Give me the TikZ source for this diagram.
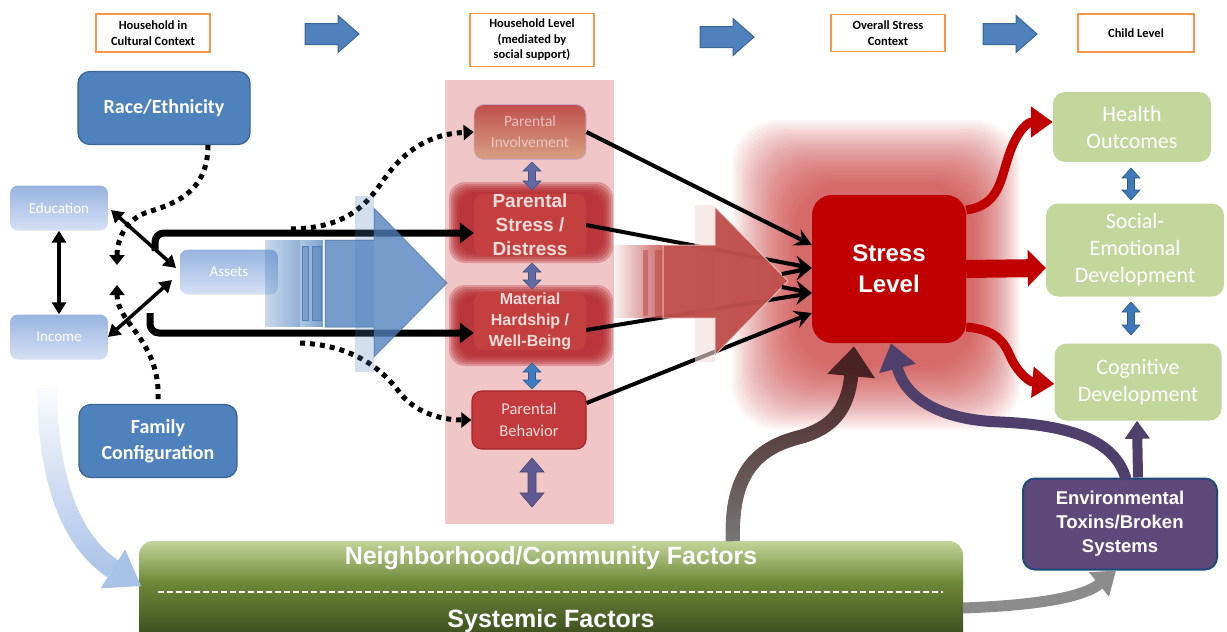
\documentclass[tikz,border=0pt]{standalone}
\usepackage{fontspec}
\setmainfont{Carlito}
\newfontfamily\arialb{Liberation Sans}
\usetikzlibrary{arrows.meta,fadings}
\definecolor{hblue}{HTML}{4F81BD}
\definecolor{hblueD}{HTML}{3A6597}
\definecolor{orangeB}{HTML}{F79646}
\definecolor{pinkcol}{HTML}{F0C6C7}
\definecolor{redbox}{HTML}{C00000}
\definecolor{greenbox}{HTML}{C3D69B}
\definecolor{purplebox}{HTML}{5F497A}
\definecolor{envborder}{HTML}{1F497D}
\definecolor{arrpurple}{HTML}{4F3F6B}
\definecolor{arrgray}{HTML}{7A7A7A}
\definecolor{arrgrayL}{RGB}{140,140,140}
\definecolor{arrdark}{HTML}{4A2222}
\definecolor{lightblue}{HTML}{A9C2E8}
\definecolor{pstressO}{HTML}{B3252B}
\definecolor{pinner}{HTML}{C4403F}
\definecolor{pbeh}{HTML}{C23A3C}
\definecolor{pbehD}{RGB}{165,35,38}
\definecolor{ptext}{HTML}{F2DCDB}
\definecolor{fbtop}{HTML}{98B4E0}
\definecolor{fbbot}{HTML}{D5E1F4}
\definecolor{bigred}{HTML}{C0504D}
\definecolor{tanbot}{RGB}{215,160,130}
\definecolor{invborder}{RGB}{200,170,200}
\definecolor{nglight}{HTML}{C4D79D}
\definecolor{ngmid}{HTML}{6F8A38}
\definecolor{ngdark}{HTML}{3E5120}
\definecolor{glowred}{HTML}{CC2A2A}
\definecolor{dblpurple}{RGB}{95,106,165}
\definecolor{dblblue}{RGB}{63,123,191}
\definecolor{dblviolet}{RGB}{95,90,147}
\definecolor{dblgreen}{RGB}{63,120,184}
\newcommand\myfs[2]{\fontsize{#1}{#2}\selectfont}
\tikzfading[name=fadeinright, left color=transparent!100, right color=transparent!0]
\tikzfading[name=fadedownop, top color=transparent!100, bottom color=transparent!0]
\newcommand\vdbl[7]{\fill[fill=#4, draw=#4!75!black, line width=0.6pt]
  (#1,#2) -- (#1+#5,#2+#7) -- (#1+#6,#2+#7) -- (#1+#6,#3-#7) -- (#1+#5,#3-#7) -- (#1,#3)
  -- (#1-#5,#3-#7) -- (#1-#6,#3-#7) -- (#1-#6,#2+#7) -- (#1-#5,#2+#7) -- cycle;}
\newcommand\blockarrow[2]{\draw[blockarr] (#1,#2) ++(0,-10.5) -- ++(33,0) -- ++(0,-8) -- ++(21,18.5) -- ++(-21,18.5) -- ++(0,-8) -- ++(-33,0) -- cycle;}
\begin{document}
\begin{tikzpicture}[x=1pt,y=-1pt,
  hdr/.style={draw=orangeB, line width=1.8pt, fill=white, align=center, inner sep=0pt, font=\bfseries\myfs{12.5}{15.5}},
  bluebox/.style={draw=hblueD, line width=1.3pt, fill=hblue, rounded corners=12pt, text=white, align=center, inner sep=0pt, font=\bfseries\myfs{20}{26}},
  fadebox/.style={top color=fbtop, bottom color=fbbot, rounded corners=8pt, text=white, inner sep=0pt, font=\myfs{15}{18}},
  greenbox/.style={fill=greenbox, rounded corners=12pt, text=white, align=center, inner sep=0pt, font=\myfs{22}{27}},
  blockarr/.style={fill=hblue, draw=hblueD, line width=1pt},
  thickblk/.style={line width=7pt, rounded corners=9pt, -{Triangle[length=14pt,width=20pt]}},
  thinblk/.style={line width=3.5pt, {Triangle[length=12pt,width=14pt]}-{Triangle[length=12pt,width=14pt]}},
  dotblk/.style={line width=5pt, dash pattern=on 5pt off 5pt, -{Triangle[length=10pt,width=15pt]}},
  tostress/.style={line width=4pt, -{Stealth[length=17pt,width=18pt,inset=6pt]}},
  redarr/.style={draw=redbox, line width=9pt, -{Triangle[length=22pt,width=30pt]}},
  pnode/.style={align=center, inner sep=0pt, text=ptext}
]
\useasboundingbox (0,0) rectangle (1227,632);
\fill[white] (0,0) rectangle (1227,632);

% pink column
\fill[pinkcol] (445,80) rectangle (614,524);

% stress glow (soft, many faint layers)
\foreach \k in {0,...,29}{
  \fill[glowred, opacity=0.036, rounded corners=45pt] (732+2.2*\k,120+2.2*\k) rectangle (1020-1.6*\k,430-2.2*\k);
}

% neighborhood / systemic box
\begin{scope}
  \clip[rounded corners=14pt] (139,541) rectangle (963,660);
  \shade[top color=nglight, bottom color=ngmid] (139,540) rectangle (963,582);
  \shade[top color=ngmid, bottom color=ngdark] (139,581) rectangle (963,633);
\end{scope}
\node[text=white, font=\arialb\bfseries\myfs{25}{28}] (nbh) at (551,558) {Neighborhood/Community Factors};
\node[text=white, font=\arialb\bfseries\myfs{25}{28}] (sys) at (551,621) {Systemic Factors};
\coordinate (dl) at (158,592);
\coordinate (dr) at (943,592);
\draw[white, line width=2.5pt, dash pattern=on 6pt off 3pt] (dl) -- (dr);

% header boxes
\node[hdr, minimum width=114, minimum height=38] (h1) at (153,33) {Household in\\Cultural Context};
\node[hdr, minimum width=124, minimum height=53] (h2) at (532,40) {Household Level\\(mediated by\\social support)};
\node[hdr, minimum width=114, minimum height=37] (h3) at (888,33) {Overall Stress\\Context};
\node[hdr, minimum width=116, minimum height=38] (h4) at (1136,33) {Child Level};
\blockarrow{305}{34}
\blockarrow{700}{37}
\blockarrow{983}{34}

% left boxes
\node[bluebox, minimum width=172, minimum height=73] (race) at (164,108) {Race/Ethnicity};
\node[bluebox, minimum width=158, minimum height=73] (fam) at (158,441) {Family\\Configuration};
\node[fadebox, minimum width=98, minimum height=45] (edu) at (59,208) {Education};
\node[fadebox, minimum width=98, minimum height=45] (inc) at (59,337) {Income};
\node[fadebox, minimum width=98, minimum height=45] (ast) at (229,272) {Assets};

% light blue arrow from income to neighborhood
\coordinate (lbs) at (47,388);
\coordinate (lbb) at (113,569);
\coordinate (lbe) at (141,586);
\draw[lightblue, line width=20pt, path fading=fadedownop]
  (lbs) .. controls (48,480) and (70,540) .. (lbb);
\fill[lightblue] (lbe) -- (100.6,588.4) -- (125.2,549.4) -- cycle;

% parental boxes
\node[top color=bigred, bottom color=tanbot, draw=invborder, line width=0.8pt, rounded corners=10pt, minimum width=112, minimum height=55, pnode, text opacity=0.75, font=\myfs{15.5}{21}] (pinv) at (530,132) {Parental\\Involvement};
\foreach \k in {0,...,5}{
  \fill[pstressO, opacity=0.3, rounded corners=16pt] (449+2*\k,182+2*\k) rectangle (613-2*\k,263-2*\k);
  \fill[pstressO, opacity=0.3, rounded corners=16pt] (449+2*\k,285+2*\k) rectangle (613-2*\k,366-2*\k);
}
\node[fill=pinner, rounded corners=10pt, minimum width=112, minimum height=58, pnode, font=\arialb\bfseries\myfs{19}{24}] (pstress) at (530,225) {Parental\\Stress /\\Distress};
\node[fill=pinner, rounded corners=10pt, minimum width=112, minimum height=58, pnode, font=\arialb\bfseries\myfs{16}{21}] (phard) at (530,321) {Material\\Hardship /\\Well-Being};
\node[fill=pbeh, draw=pbehD, line width=1.2pt, rounded corners=10pt, minimum width=114, minimum height=58, pnode, font=\myfs{16.5}{22}] (pbeh) at (529,420) {Parental\\Behavior};
\vdbl{532}{162}{190}{dblpurple}{9}{3.5}{9}
\vdbl{532}{263}{289}{dblpurple}{9}{3.5}{9}
\vdbl{532}{363}{389}{dblblue}{9}{3.5}{9}
\vdbl{532}{458}{507}{dblviolet}{12}{4}{14}

% black connectors on the left
\draw[thinblk] (edu.south) -- (inc.north);
\coordinate (ea) at (111,210);
\coordinate (ae) at (176,268);
\draw[thinblk] (ea) -- (ae);
\coordinate (ia) at (108,337);
\coordinate (ai) at (172,280);
\draw[thinblk] (ia) -- (ai);
\draw[thickblk] (155,251) -- (155,233) -- (pstress.west |- 0,233);
\draw[thickblk] (150,313) -- (150,333) -- (phard.west |- 0,333);

% dotted connectors
\coordinate (rd) at (117,265);
\draw[dotblk] ([xshift=44pt]race.south) .. controls (208,195) and (170,205) .. (145,213) .. controls (125,221) and (117,240) .. (rd);
\coordinate (fd) at (117,285);
\draw[dotblk, {Triangle[length=10pt,width=15pt]}-] (fd) .. controls (117,325) and (162,340) .. (fam.north);
\coordinate (ds1) at (291,229);
\draw[dotblk] (ds1) .. controls (350,228) and (368,202) .. (385,178) .. controls (405,150) and (430,134) .. (pinv.west);
\coordinate (ds2) at (300,343);
\draw[dotblk] (ds2) .. controls (350,345) and (380,366) .. (400,393) .. controls (415,412) and (440,420) .. (pbeh.west);

% big blue arrow
\fill[hblue, opacity=0.25] (355,196) rectangle (374,372);
\fill[hblue, opacity=0.75, path fading=fadeinright] (265,240) rectangle (323,327);
\fill[hblue, opacity=0.3] (265,240) rectangle (300,327);
\draw[hblue, fill=hblue, fill opacity=0.5, line width=1pt] (302,246) rectangle (308,320) (312,246) rectangle (321,320);
\draw[fill=hblue, fill opacity=0.78, draw=hblueD, draw opacity=0.5, line width=1pt] (325,240) -- (374,240) -- (374,208) -- (447,283) -- (374,357) -- (374,327) -- (325,327) -- cycle;

% stress level box and arrows into it
\node[fill=redbox, rounded corners=20pt, minimum width=154, minimum height=148, text=white, align=center, inner sep=0pt, font=\arialb\bfseries\myfs{24}{31}] (stress) at (889,269) {Stress\\Level};
\draw[tostress] (pinv.east) -- ([yshift=24pt]stress.west);
\draw[tostress] (pstress.east) -- ([yshift=1pt]stress.west);
\draw[tostress] ([yshift=-9pt]phard.east) -- ([yshift=-24pt]stress.west);
\draw[tostress] ([yshift=17pt]pbeh.east) -- ([yshift=-44pt]stress.west);

% big red arrow (over the black lines)
\fill[ptext, opacity=0.6] (695,205) rectangle (715,362);
\fill[bigred, opacity=0.85, path fading=fadeinright] (610,245) rectangle (663,318);
\fill[bigred, fill opacity=0.6] (643,250) rectangle (648,316) (655,250) rectangle (662,316);
\draw[fill=bigred, fill opacity=0.97, draw=ptext, draw opacity=0.7, line width=1pt] (663,245) -- (715,245) -- (715,207) -- (788,281) -- (715,355) -- (715,318) -- (663,318) -- cycle;
\draw[tostress] ([xshift=-30pt,yshift=-5pt]stress.west) -- ([yshift=1pt]stress.west);
\draw[tostress] ([xshift=-30pt,yshift=-18pt]stress.west) -- ([yshift=-24pt]stress.west);

% child level boxes
\node[greenbox, minimum width=158, minimum height=70] (health) at (1132,127) {Health\\Outcomes};
\node[greenbox, minimum width=178, minimum height=93] (social) at (1135,250) {Social-\\Emotional\\Development};
\node[greenbox, minimum width=167, minimum height=77] (cog) at (1138,382) {Cognitive\\Development};
\vdbl{1131}{168}{200}{dblgreen}{9}{3.5}{10}
\vdbl{1131}{302}{335}{dblgreen}{9}{3.5}{10}

% red arrows from stress
\draw[redarr] ([yshift=59pt]stress.east) .. controls (1000,205) and (1000,180) .. (1010,152) .. controls (1018,130) and (1028,122) .. ([yshift=5pt]health.west);
\draw[redbox, line width=18pt, -{Triangle[length=18pt,width=36pt]}] (stress.east) -- ([yshift=-18pt]social.west);
\draw[redarr] ([yshift=-58pt]stress.east) .. controls (1000,330) and (1005,345) .. (1012,360) .. controls (1020,375) and (1030,382) .. ([yshift=-2pt]cog.west);

% environmental toxins
\node[fill=purplebox, draw=envborder, line width=2pt, rounded corners=12pt, minimum width=194, minimum height=91, text=white, align=center, inner sep=0pt, font=\arialb\bfseries\myfs{18.5}{24}] (env) at (1120,524) {Environmental\\Toxins/Broken\\Systems};

% purple arrows
\coordinate (pa) at (1126,479);
\draw[arrpurple, line width=11pt, -{Triangle[length=26pt,width=36pt]}] (pa) .. controls (1115,440) and (1070,425) .. (1000,422) .. controls (940,420) and (905,398) .. ([xshift=2pt]stress.south);
\draw[arrpurple, line width=10pt, -{Triangle[length=18pt,width=24pt]}] ([xshift=18pt]env.north) -- ([xshift=-1pt]cog.south);

% gray arrow from neighborhood to stress
\coordinate (ga) at (733,541);
\draw[arrdark, line width=14pt, -{Triangle[length=30pt,width=46pt]}] (ga) .. controls (730,470) and (760,447) .. (800,437) .. controls (832,428) and (848,410) .. ([xshift=-35pt,yshift=-3pt]stress.south);
\draw[arrgray, line width=14pt, path fading=fadedownop] (ga) .. controls (730,470) and (760,447) .. (800,437) .. controls (832,428) and (848,410) .. (851,375);

% gray arrow from neighborhood to environment
\coordinate (gb) at (963,608);
\draw[arrgrayL, line width=11pt, -{Triangle[length=22pt,width=30pt]}] (gb) .. controls (1020,606) and (1080,600) .. ([xshift=-4pt]env.south);
\end{tikzpicture}
\end{document}
